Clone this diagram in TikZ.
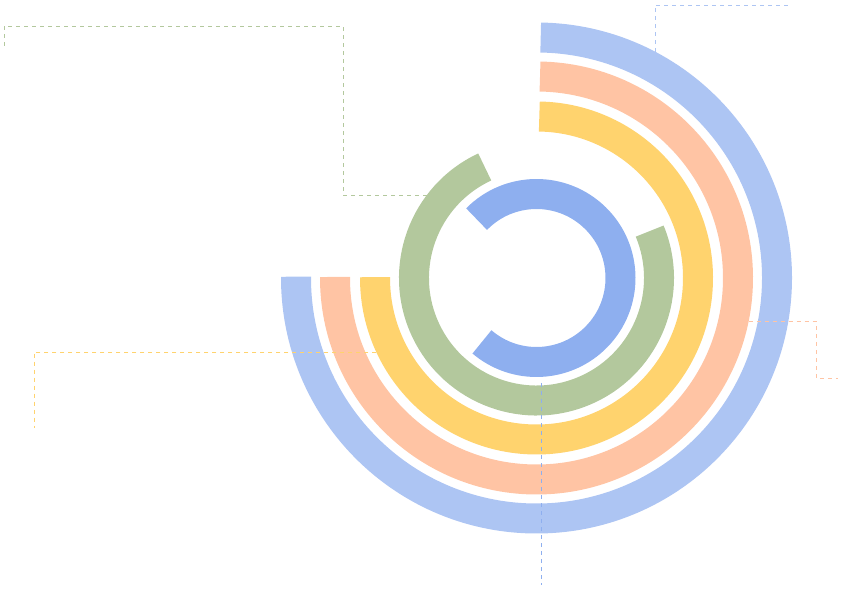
\documentclass[tikz,border=0pt]{standalone}
\usepackage{tikz}
\def\bandwidth{30pt}

\definecolor{outerblue}{RGB}{173,197,243}
\definecolor{salmon}{RGB}{255,196,164}
\definecolor{gold}{RGB}{255,211,110}
\definecolor{sage}{RGB}{179,200,157}
\definecolor{innerblue}{RGB}{142,175,239}

\begin{document}
\begin{tikzpicture}[x=1pt,y=1pt]
    \tikzstyle{band}=[line width=\bandwidth]
    \tikzstyle{leader}=[line width=0.9pt, dash pattern=on 4pt off 4pt]

    \useasboundingbox (0,0) rectangle (849,595);
    \coordinate (c) at (536.5,317);

    % Draw the three outer bands, top round to the left
    \foreach \col / \r in {outerblue/240.5, salmon/201.5, gold/161.5}
        \draw[band, \col] (c) ++(89:\r pt) arc[start angle=89, end angle=-180.3, radius=\r pt];

    % Draw the two inner bands
    \draw[band, sage] (c) ++(115:122.5pt) arc[start angle=115, end angle=382.5, radius=122.5pt];
    \draw[band, innerblue] (c) ++(135.5:84pt) arc[start angle=135.5, end angle=-130.5, radius=84pt];

    % Points where the leaders leave the bands
    \path (c) ++(62.3:255.5pt) coordinate (B-edge);
    \path (c) ++(-11.5:216.5pt) coordinate (S-edge);
    \path (c) ++(204.8:176.5pt) coordinate (Y-edge);
    \path (c) ++(142.9:137.5pt) coordinate (G-edge);
    \coordinate (I-edge) at (541,212);

    % Draw the leaders
    \draw[leader, outerblue] (B-edge) |- (789,590);
    \draw[leader, salmon] (S-edge) -| (816,217) -- ++(22,0);
    \draw[leader, gold] (Y-edge) -| (34,167);
    \draw[leader, sage] (G-edge) -| (343,569) -| (4,547);
    \draw[leader, innerblue] (I-edge) -- (541,10);
\end{tikzpicture}
\end{document}
